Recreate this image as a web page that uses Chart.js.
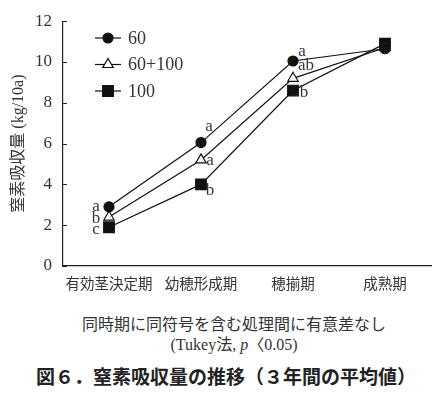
<!DOCTYPE html>
<html>
<head>
<meta charset="utf-8">
<script src="https://cdn.jsdelivr.net/npm/chart.js@4"></script>
<style>
  body { margin: 0; background: #fff; width: 445px; height: 399px; overflow: hidden; }
  #wrap { position: relative; width: 445px; height: 300px; }
  .note { position: absolute; left: 0; width: 468px; text-align: center; color: #333;
          font-family: "Liberation Serif", "Noto Sans CJK JP", serif; font-size: 16px; }
  .title { position: absolute; left: 36px; top: 362px; color: #222; white-space: nowrap;
           font-family: "Noto Sans CJK JP", sans-serif; font-weight: bold; font-size: 19px; }
</style>
</head>
<body>
<div id="wrap"><canvas id="grafico"></canvas></div>
<div class="note" style="top:311px">同時期に同符号を含む処理間に有意差なし</div>
<div class="note" style="top:331px">(Tukey法, <i>p</i>〈0.05)</div>
<div class="title">図６．窒素吸収量の推移（３年間の平均値）</div>
<script>
const estagios = ['有効茎決定期', '幼穂形成期', '穂揃期', '成熟期'];
const tratamentos = ['60', '60+100', '100'];
const valores60 = [2.9, 6.05, 10.05, 10.65];
const valores60100 = [2.4, 5.2, 9.2, 10.7];
const valores100 = [1.9, 4.0, 8.6, 10.9];
const letras60 = ['a', 'a', 'a', ''];
const letras60100 = ['b', 'a', 'ab', ''];
const letras100 = ['c', 'b', 'b', ''];
const yTicks = [0, 2, 4, 6, 8, 10, 12];

const corTexto = '#333';
const serif = '"Liberation Serif", "DejaVu Serif", serif';

// deslocamento das letras em relação ao ponto (por estágio)
const offsets = [
  [[-13, 0], [8, -16], [9, -9]],
  [[-13, 1], [9, 1], [13, -13]],
  [[-13, 2], [9, 6], [11, 2]]
];

const legendaPlugin = {
  id: 'legenda',
  afterDraw(chart) {
    const ctx = chart.ctx;
    ctx.save();
    chart.data.datasets.forEach((ds, i) => {
      const y = 38 + i * 26.5;
      ctx.strokeStyle = '#111';
      ctx.lineWidth = 1.2;
      ctx.beginPath();
      ctx.moveTo(95, y);
      ctx.lineTo(121, y);
      ctx.stroke();
      ctx.fillStyle = ds.pointBackgroundColor;
      ctx.strokeStyle = '#111';
      ctx.lineWidth = 1.2;
      Chart.helpers.drawPoint(ctx, { pointStyle: ds.pointStyle, radius: ds.pointRadius, borderWidth: 1.2 }, 108, y);
      ctx.fillStyle = corTexto;
      ctx.font = '18px ' + serif;
      ctx.textBaseline = 'middle';
      ctx.fillText(ds.label, 128, y + 1);
    });
    ctx.restore();
  }
};

const letrasPlugin = {
  id: 'letras',
  afterDatasetsDraw(chart) {
    const ctx = chart.ctx;
    const todas = [letras60, letras60100, letras100];
    ctx.save();
    ctx.font = '17px ' + serif;
    ctx.fillStyle = '#3b2f4a';
    ctx.textBaseline = 'middle';
    ctx.textAlign = 'center';
    chart.data.datasets.forEach((ds, i) => {
      const meta = chart.getDatasetMeta(i);
      meta.data.forEach((p, j) => {
        const letra = todas[i][j];
        if (!letra) return;
        const off = offsets[i][j] || [0, 0];
        ctx.fillText(letra, p.x + off[0], p.y + off[1]);
      });
    });
    ctx.restore();
  }
};

const ticksPlugin = {
  id: 'ticksDentro',
  afterDraw(chart) {
    const ctx = chart.ctx;
    const y = chart.scales.y;
    ctx.save();
    ctx.strokeStyle = '#222';
    ctx.lineWidth = 1;
    yTicks.forEach(v => {
      const py = Math.round(y.getPixelForValue(v)) + 0.5;
      ctx.beginPath();
      ctx.moveTo(chart.chartArea.left, py);
      ctx.lineTo(chart.chartArea.left + 4, py);
      ctx.stroke();
    });
    ctx.restore();
  }
};

function geraGrafico() {
  const canva = document.getElementById('grafico');
  const base = { borderColor: '#111', borderWidth: 1.2, pointBorderColor: '#111', pointBorderWidth: 1.2, tension: 0 };

  new Chart(canva, {
    type: 'line',
    data: {
      labels: estagios,
      datasets: [
        { ...base, label: tratamentos[0], data: valores60, pointStyle: 'circle', pointRadius: 5, pointBackgroundColor: '#111' },
        { ...base, label: tratamentos[1], data: valores60100, pointStyle: 'triangle', pointRadius: 6, pointBackgroundColor: '#fff' },
        { ...base, label: tratamentos[2], data: valores100, pointStyle: 'rect', pointRadius: 7.5, pointBackgroundColor: '#111' }
      ]
    },
    options: {
      responsive: false,
      animation: false,
      layout: { padding: { top: 12, right: 14, left: 0, bottom: 0 } },
      plugins: { legend: { display: false }, tooltip: { enabled: false } },
      scales: {
        x: {
          offset: true,
          grid: { display: false, drawTicks: false },
          border: { color: '#222', width: 1.2 },
          ticks: { color: corTexto, padding: 9, font: { family: '"Noto Sans CJK JP", sans-serif', size: 14.5 }, maxRotation: 0, autoSkip: false },
          afterFit(s) { s.height = 34; }
        },
        y: {
          min: 0, max: 12,
          afterBuildTicks(s) { s.ticks = yTicks.map(v => ({ value: v })); },
          grid: { display: false, drawTicks: false },
          border: { color: '#222', width: 1.2 },
          ticks: { color: corTexto, padding: 11, font: { family: serif, size: 17 } },
          title: { display: true, text: '窒素吸収量 (kg/10a)', color: corTexto, padding: { top: 9, bottom: 0 },
                   font: { family: '"Liberation Serif", "Noto Sans CJK JP", serif', size: 16 } },
          afterFit(s) { s.width = 63; }
        }
      }
    },
    plugins: [legendaPlugin, letrasPlugin, ticksPlugin]
  });
}

document.getElementById('grafico').width = 445;
document.getElementById('grafico').height = 300;
geraGrafico();
</script>
</body>
</html>
